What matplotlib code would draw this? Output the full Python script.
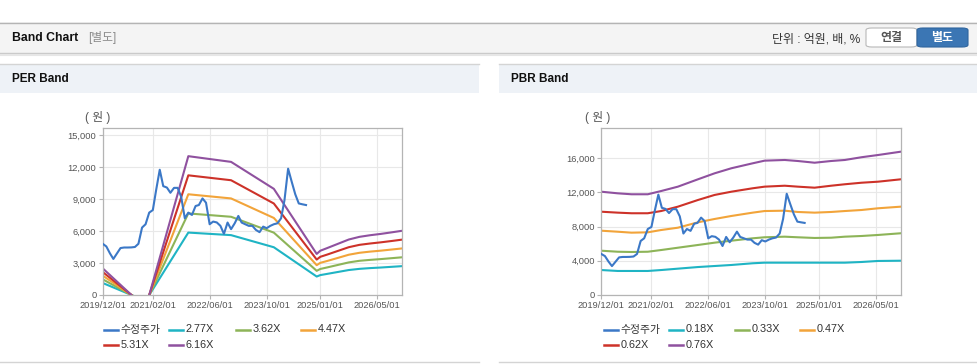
import numpy as np
import pandas as pd
import matplotlib
matplotlib.use("Agg")
import matplotlib.pyplot as plt
import matplotlib.dates as mdates
from matplotlib.patches import Rectangle, FancyBboxPatch
from matplotlib.lines import Line2D
from matplotlib.ticker import FuncFormatter

plt.rcParams['font.family'] = ['Liberation Sans', 'Noto Sans CJK KR']

# 수정주가 (monthly, from 2019/12)
price_dates = pd.date_range('2019-12-01', periods=58, freq='MS')
price = [4800, 4550, 3900, 3380, 3900, 4400, 4450, 4450, 4460, 4500,
         4800, 6320, 6630, 7720, 7960, 9820, 11740, 10200, 10070, 9580,
         10040, 10040, 9200, 7190, 7720, 7500, 8340, 8430, 9050, 8650,
         6630, 6880, 6800, 6480, 5730, 6790, 6170, 6720, 7410, 6790,
         6630, 6480, 6480, 6100, 5890, 6410, 6260, 6480, 6630, 6720,
         7190, 8890, 11840, 10640, 9440, 8580, 8500, 8430]

# PER band
per_dates = pd.to_datetime(['2019-12-01', '2020-12-01', '2021-12-01', '2022-12-01',
                            '2023-12-01', '2024-12-01', '2025-01-01', '2025-03-01',
                            '2025-06-01', '2025-09-01', '2025-12-01', '2026-03-01',
                            '2026-06-01', '2026-09-01', '2026-12-01'])
per_labels = ['2.77X', '3.62X', '4.47X', '5.31X', '6.16X']
per_277 = [1125, -554, 5850, 5610, 4475, 1730, 1865, 1980, 2160, 2340, 2450, 2520, 2575, 2640, 2705]
per_362 = [1470, -725, 7645, 7330, 5845, 2265, 2440, 2585, 2820, 3055, 3205, 3290, 3365, 3450, 3535]
per_447 = [1815, -895, 9440, 9050, 7220, 2795, 3015, 3190, 3480, 3775, 3955, 4065, 4155, 4260, 4365]
per_531 = [2155, -1060, 11215, 10755, 8575, 3320, 3580, 3790, 4135, 4480, 4700, 4825, 4935, 5060, 5190]
per_616 = [2500, -1230, 13010, 12475, 9950, 3850, 4150, 4400, 4800, 5200, 5450, 5600, 5725, 5870, 6020]

# PBR band
pbr_dates = pd.to_datetime(['2019-12-01', '2020-04-20', '2020-08-15', '2021-01-01', '2021-04-25',
                            '2021-09-15', '2022-03-05', '2022-07-25', '2022-12-15', '2023-06-15',
                            '2023-09-25', '2024-03-15', '2024-07-05', '2024-11-25', '2025-04-15',
                            '2025-08-10', '2025-12-30', '2026-05-20', '2026-12-01'])
pbr_labels = ['0.18X', '0.33X', '0.47X', '0.62X', '0.76X']
pbr_018 = [2920, 2810, 2810, 2810, 2920, 3080, 3270, 3390, 3510, 3710, 3780, 3780, 3780, 3780, 3780, 3780, 3860, 3980, 4010]
pbr_033 = [5180, 5060, 5030, 5060, 5260, 5530, 5850, 6120, 6350, 6630, 6750, 6820, 6750, 6670, 6700, 6820, 6900, 7020, 7220]
pbr_047 = [7520, 7400, 7290, 7330, 7600, 7870, 8500, 8890, 9240, 9630, 9820, 9860, 9710, 9630, 9710, 9820, 9940, 10140, 10330]
pbr_062 = [9740, 9630, 9560, 9560, 9820, 10330, 11110, 11700, 12080, 12480, 12670, 12780, 12670, 12550, 12780, 12950, 13130, 13250, 13530]
pbr_076 = [12080, 11890, 11780, 11780, 12160, 12670, 13530, 14230, 14820, 15400, 15710, 15790, 15670, 15470, 15670, 15790, 16110, 16370, 16760]

xticks = pd.to_datetime(['2019-12-01', '2021-02-01', '2022-06-01', '2023-10-01', '2025-01-01', '2026-05-01'])

price_color = '#3b78c7'
band_colors = ['#1fb4c4', '#8db458', '#f2a43a', '#cd3229', '#8f519f']

W, H = 978, 364
fig = plt.figure(figsize=(W / 100, H / 100), dpi=100)
fig.patch.set_facecolor('white')


def fx(x):
    return x / W


def fy(y):
    return 1 - y / H


def rect(x0, y0, x1, y1, **kw):
    fig.patches.append(Rectangle((fx(x0), fy(y1)), (x1 - x0) / W, (y1 - y0) / H,
                                 transform=fig.transFigure, **kw))


def hline(x0, x1, y, color, lw=1.0):
    fig.add_artist(Line2D([fx(x0), fx(x1)], [fy(y), fy(y)], color=color, lw=lw,
                          transform=fig.transFigure))


# top header
rect(0, 22, W, 53, facecolor='#f4f4f4', edgecolor='none')
hline(0, W, 22.5, '#b4b4b4')
hline(0, W, 53, '#c9c9c9')
hline(0, W, 54.5, '#e6e6e6', lw=1.5)
fig.text(fx(12), fy(38), 'Band Chart', fontsize=8.8, fontweight='bold', color='#111111', va='center')
fig.text(fx(88), fy(38), '[별도]', fontsize=8.5, color='#8a8a8a', va='center')
fig.text(fx(860), fy(39), '단위 : 억원, 배, %', fontsize=8.6, color='#333333', va='center', ha='right')
fig.patches.append(FancyBboxPatch((fx(866), fy(47)), 51 / W, 19 / H, boxstyle='round,pad=0,rounding_size=0.006',
                                  transform=fig.transFigure, facecolor='white', edgecolor='#b8b8b8', lw=0.8))
fig.patches.append(FancyBboxPatch((fx(917), fy(47)), 51 / W, 19 / H, boxstyle='round,pad=0,rounding_size=0.006',
                                  transform=fig.transFigure, facecolor='#3b76b4', edgecolor='#2f659e', lw=0.8))
fig.text(fx(891.5), fy(38), '연결', fontsize=8.6, fontweight='bold', color='#555555', va='center', ha='center')
fig.text(fx(942.5), fy(38), '별도', fontsize=8.6, fontweight='bold', color='white', va='center', ha='center')

# panel headers
for x0, x1, title in [(0, 479, 'PER Band'), (499, W, 'PBR Band')]:
    rect(x0, 64, x1, 93, facecolor='#eef2f7', edgecolor='none')
    hline(x0, x1, 64, '#d4d4d4')
    hline(x0, x1, 362, '#d4d4d4')
    fig.text(fx(x0 + 12), fy(79.5), title, fontsize=8.5, fontweight='bold', color='#111111', va='center')


def draw_panel(left, dates, bands, labels, ymax, yticks, unit_x, leg_x):
    ax = fig.add_axes([fx(left), fy(295), 299.5 / W, (295 - 128) / H])
    ax.plot(price_dates, price, color=price_color, lw=1.5, label='수정주가', zorder=3)
    for vals, lab, col in zip(bands, labels, band_colors):
        ax.plot(dates, vals, color=col, lw=1.5, label=lab, zorder=2)
    ax.set_xlim(pd.Timestamp('2019-12-01'), pd.Timestamp('2026-12-01'))
    ax.set_ylim(0, ymax)
    ax.set_xticks(xticks)
    ax.xaxis.set_major_formatter(mdates.DateFormatter('%Y/%m/%d'))
    ax.set_yticks(yticks)
    ax.yaxis.set_major_formatter(FuncFormatter(lambda v, p: f'{int(v):,}'))
    ax.grid(True, color='#e8e8e8', lw=0.8)
    ax.set_axisbelow(True)
    for s in ax.spines.values():
        s.set_color('#b4b4b4')
        s.set_linewidth(0.9)
    ax.tick_params(axis='both', length=3, color='#b4b4b4', labelsize=6.7, labelcolor='#555555', pad=1.5)
    fig.text(fx(unit_x), fy(117), '( 원 )', fontsize=8.5, color='#555555', va='center')

    # legend
    lines = ax.get_lines()
    rows = [(329.5, lines[:4]), (344.5, lines[4:])]
    for y, row in rows:
        for lx, ln in zip(leg_x, row):
            hline(lx, lx + 14, y, ln.get_color(), lw=1.8)
            fig.text(fx(lx + 16.5), fy(y), ln.get_label(), fontsize=7.8, color='#333333', va='center')
    return ax


draw_panel(102.7, per_dates, [per_277, per_362, per_447, per_531, per_616], per_labels,
           15650, np.arange(0, 15001, 3000), 85, [104, 169.5, 236, 301])
draw_panel(601.3, pbr_dates, [pbr_018, pbr_033, pbr_047, pbr_062, pbr_076], pbr_labels,
           19530, np.arange(0, 16001, 4000), 585, [604, 669.5, 735, 800])

fig.savefig('out.png', dpi=100)
